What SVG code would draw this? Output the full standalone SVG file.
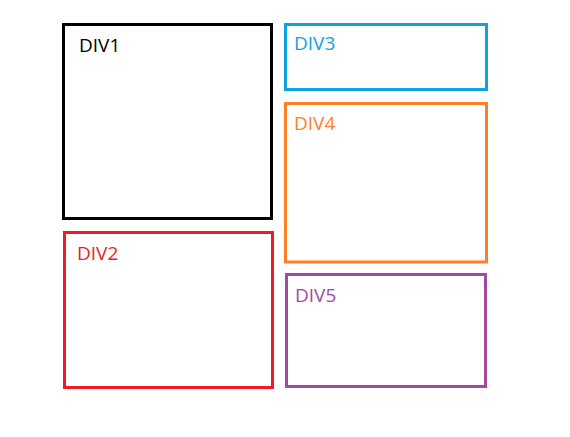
<svg xmlns="http://www.w3.org/2000/svg" width="570" height="437" viewBox="0 0 570 437">
<style>
rect{fill:none;stroke-width:3}
text{font-family:"Open Sans","Noto Sans","DejaVu Sans",sans-serif;font-size:19px}
</style>
<rect x="0" y="0" width="570" height="437" fill="#fff" style="fill:#fff;stroke:none"/>
<g id="div1"><rect x="63.5" y="24.5" width="208" height="194" stroke="#000"/><text x="79" y="52" fill="#000">DIV1</text></g>
<g id="div2"><rect x="64.5" y="232.5" width="208" height="155" stroke="#ED1C24"/><text x="77" y="260" fill="#ED1C24">DIV2</text></g>
<g id="div3"><rect x="285.5" y="24.5" width="201" height="65" stroke="#0EA2E2"/><text x="294" y="50" fill="#0EA2E2">DIV3</text></g>
<g id="div4"><rect x="285.5" y="103.5" width="201" height="158.5" stroke="#FF7F27"/><text x="294" y="130" fill="#FF7F27">DIV4</text></g>
<g id="div5"><rect x="286.5" y="274.5" width="199" height="112" stroke="#A349A4"/><text x="295" y="302" fill="#A349A4">DIV5</text></g>
<g id="connectors"/>
</svg>
